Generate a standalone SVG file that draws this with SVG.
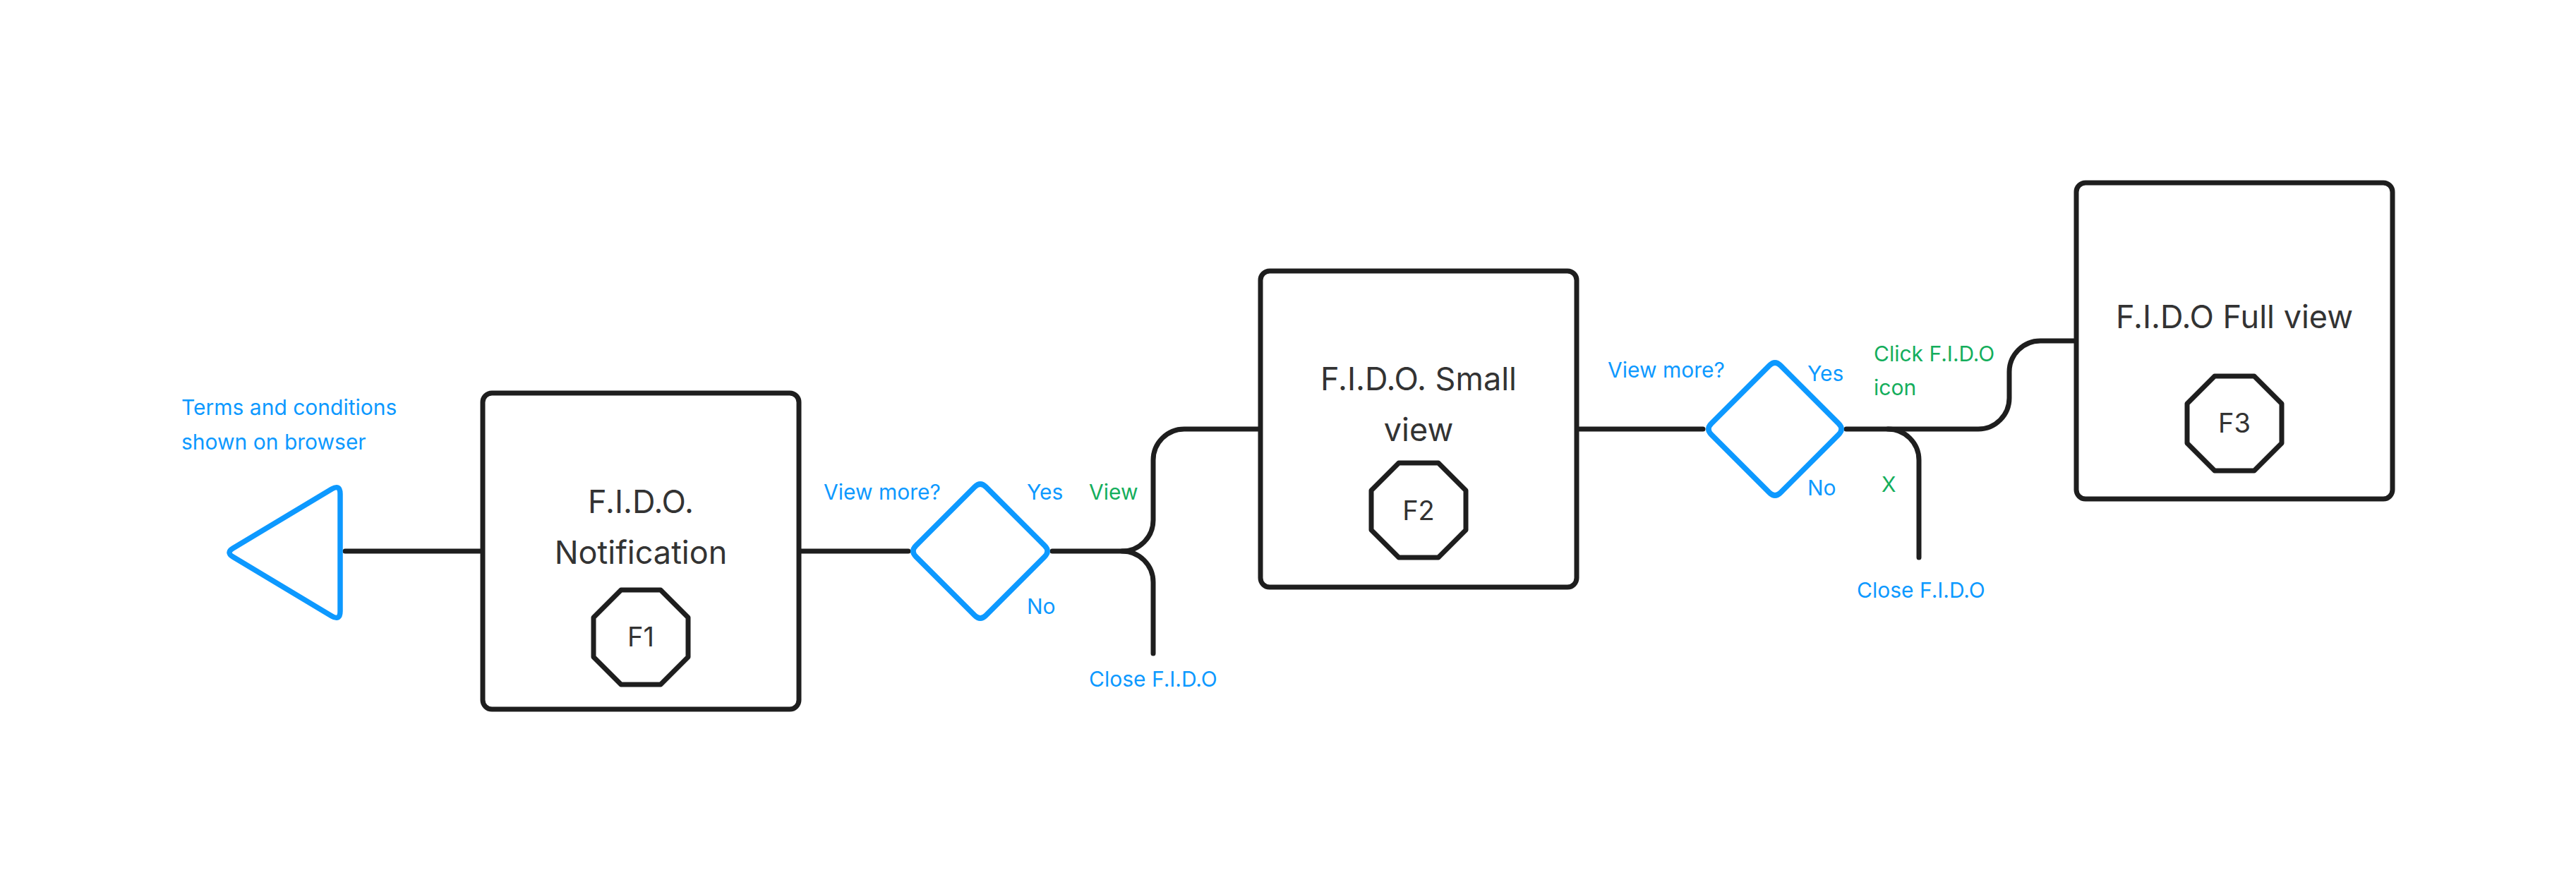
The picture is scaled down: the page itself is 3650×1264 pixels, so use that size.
<svg xmlns="http://www.w3.org/2000/svg" width="3650" height="1264" viewBox="0 0 3650 1264">
<style>
.box{fill:#fff;stroke:#1e1e1e;stroke-width:7}
.oct{fill:#fff;stroke:#1e1e1e;stroke-width:7;stroke-linejoin:round}
.blue{fill:#fff;stroke:#0d99ff;stroke-width:7.5;stroke-linejoin:round}
.con{fill:none;stroke:#1e1e1e;stroke-width:7;stroke-linecap:round}
.t{font-family:Inter,"Liberation Sans",sans-serif;fill:#333;font-size:45px;text-anchor:middle}
.f{font-family:Inter,"Liberation Sans",sans-serif;fill:#333;font-size:38px;text-anchor:middle}
.lb{font-family:Inter,"Liberation Sans",sans-serif;fill:#0d99ff;font-size:30px}
.lg{font-family:Inter,"Liberation Sans",sans-serif;fill:#14ae5c;font-size:30px}
</style>
<rect width="3650" height="1264" fill="#fff"/>
<g id="connectors">
<path class="con" d="M489 781 H681"/>
<path class="con" d="M1135 781 H1287"/>
<path class="con" d="M1491 781 H1590 A44 44 0 0 0 1634 737 V652 A44 44 0 0 1 1678 608 H1783"/>
<path class="con" d="M1590 781 A44 44 0 0 1 1634 825 V926"/>
<path class="con" d="M2238 608 H2413"/>
<path class="con" d="M2616 608 H2803 A44 44 0 0 0 2847 564 V527 A44 44 0 0 1 2891 483 H2939"/>
<path class="con" d="M2675 608 A44 44 0 0 1 2719 652 V790"/>
</g>
<g id="terms">
<path class="blue" d="M470 693 Q482 686 482 700 L482 866 Q482 880 470 873 L330 789 Q320 783 330 777 Z"/>
<text class="lb" x="257" y="588">Terms and conditions</text>
<text class="lb" x="257" y="637">shown on browser</text>
</g>
<g id="f1">
<rect class="box" x="684" y="557" width="448" height="448" rx="13"/>
<text class="t" x="908" y="727">F.I.D.O.</text>
<text class="t" x="908" y="799">Notification</text>
<polygon class="oct" points="880,836 936,836 975,875 975,931 936,970 880,970 841,931 841,875"/>
<text class="f" x="908" y="916">F1</text>
</g>
<g id="d1">
<path class="blue" d="M1381 690 Q1389 682 1397 690 L1480 773 Q1488 781 1480 789 L1397 872 Q1389 880 1381 872 L1298 789 Q1290 781 1298 773 Z"/>
<text class="lb" x="1167" y="708">View more?</text>
<text class="lb" x="1455" y="708">Yes</text>
<text class="lb" x="1455" y="870">No</text>
<text class="lg" x="1543" y="708">View</text>
<text class="lb" x="1543" y="973">Close F.I.D.O</text>
</g>
<g id="f2">
<rect class="box" x="1786" y="384" width="448" height="448" rx="13"/>
<text class="t" x="2010" y="553">F.I.D.O. Small</text>
<text class="t" x="2010" y="625">view</text>
<polygon class="oct" points="1982,656 2038,656 2077,695 2077,751 2038,790 1982,790 1943,751 1943,695"/>
<text class="f" x="2010" y="737">F2</text>
</g>
<g id="d2">
<path class="blue" d="M2507 518 Q2515 510 2523 518 L2605 600 Q2613 608 2605 616 L2523 698 Q2515 706 2507 698 L2425 616 Q2417 608 2425 600 Z"/>
<text class="lb" x="2278" y="535">View more?</text>
<text class="lb" x="2561" y="540">Yes</text>
<text class="lb" x="2561" y="702">No</text>
<text class="lg" x="2655" y="512">Click F.I.D.O</text>
<text class="lg" x="2655" y="560">icon</text>
<text class="lg" x="2666" y="697">X</text>
<text class="lb" x="2631" y="847">Close F.I.D.O</text>
</g>
<g id="f3">
<rect class="box" x="2942" y="259" width="448" height="448" rx="13"/>
<text class="t" x="3166" y="465">F.I.D.O Full view</text>
<polygon class="oct" points="3138,533 3194,533 3233,572 3233,628 3194,667 3138,667 3099,628 3099,572"/>
<text class="f" x="3166" y="613">F3</text>
</g>
</svg>
